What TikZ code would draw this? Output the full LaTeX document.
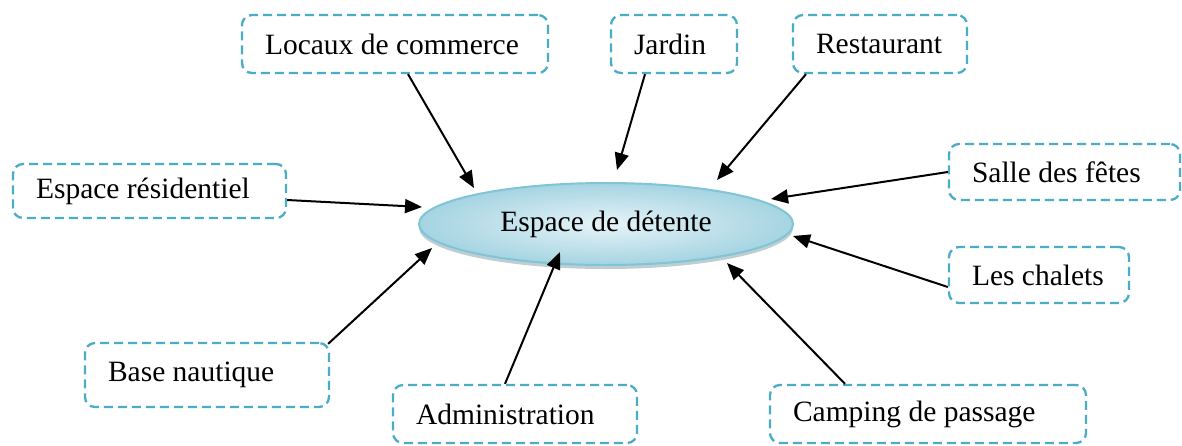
\documentclass[tikz,border=0pt]{standalone}
\usepackage{fontspec}
\setmainfont{Liberation Serif}
\usetikzlibrary{arrows.meta,shapes.geometric,shadows}
\definecolor{zoneblue}{RGB}{75,172,198}
\definecolor{hubedge}{RGB}{128,196,214}
\definecolor{hubout}{RGB}{165,212,226}
\definecolor{hubin}{RGB}{230,243,248}
% left-set text inside a box of fixed inner width
\newcommand{\zonelabel}[2]{\makebox[#1][l]{#2}}
\begin{document}
\begin{tikzpicture}[x=1pt, y=-1pt,
  zone/.style={rectangle, rounded corners=10pt, draw=zoneblue, dash pattern=on 9pt off 5pt, line width=2.3pt, font=\fontsize{29.5}{34}\selectfont, inner xsep=23pt, inner ysep=0pt},
  hub/.style={ellipse, draw=hubedge, line width=2pt, inner color=hubin, outer color=hubout, minimum width=374pt, minimum height=82pt, inner sep=0pt, font=\fontsize{29.5}{34}\selectfont, drop shadow={shadow xshift=0pt, shadow yshift=-4pt, fill=gray!55!hubedge}},
  link/.style={draw, black, line width=2pt, -{Triangle[length=17pt, width=14pt]}},
]
\useasboundingbox (0,0) rectangle (1182,445);

% centre
\node[hub] (hub) at (606,224) {\raisebox{4pt}{Espace de détente}};

% surrounding zones (box width minus 46pt of padding)
\node[zone, minimum height=58pt] (locaux) at (395,44) {\zonelabel{260pt}{Locaux de commerce}};
\node[zone, minimum height=58pt] (jardin) at (674,44) {\zonelabel{80pt}{Jardin}};
\node[zone, minimum height=58pt] (restaurant) at (880,44) {\zonelabel{128pt}{Restaurant}};
\node[zone, minimum height=54pt] (residentiel) at (149.5,191) {\zonelabel{227pt}{Espace résidentiel}};
\node[zone, minimum height=56pt] (salle) at (1064.5,172) {\zonelabel{185pt}{Salle des fêtes}};
\node[zone, minimum height=56pt] (chalets) at (1039,275) {\zonelabel{134pt}{Les chalets}};
\node[zone, minimum height=64pt] (nautique) at (207,375) {\zonelabel{198pt}{Base nautique}};
\node[zone, minimum height=58pt] (admin) at (515,414) {\zonelabel{198pt}{Administration}};
\node[zone, minimum height=58pt] (camping) at (928,414) {\zonelabel{270pt}{Camping de passage}};

% arrow tips
\coordinate (tlocaux) at (474,188);
\coordinate (tjardin) at (617,170);
\coordinate (trestaurant) at (717,180);
\coordinate (tresidentiel) at (422,207);
\coordinate (tsalle) at (771,199);
\coordinate (tchalets) at (793,236);
\coordinate (tnautique) at (432,248);
\coordinate (tadmin) at (560,252);
\coordinate (tcamping) at (727,263);

\draw[link] (locaux.south -| 408,0) -- (tlocaux);
\draw[link] (jardin.south -| 645,0) -- (tjardin);
\draw[link] (restaurant.south -| 806,0) -- (trestaurant);
\draw[link] (residentiel.east |- 0,200) -- (tresidentiel);
\draw[link] (salle.west) -- (tsalle);
\draw[link] (chalets.west |- 0,287) -- (tchalets);
\draw[link] (nautique.north east) ++(-2,2) -- (tnautique);
\draw[link] (admin.north -| 505,0) -- (tadmin);
\draw[link] (camping.north -| 845,0) -- (tcamping);
\end{tikzpicture}
\end{document}
